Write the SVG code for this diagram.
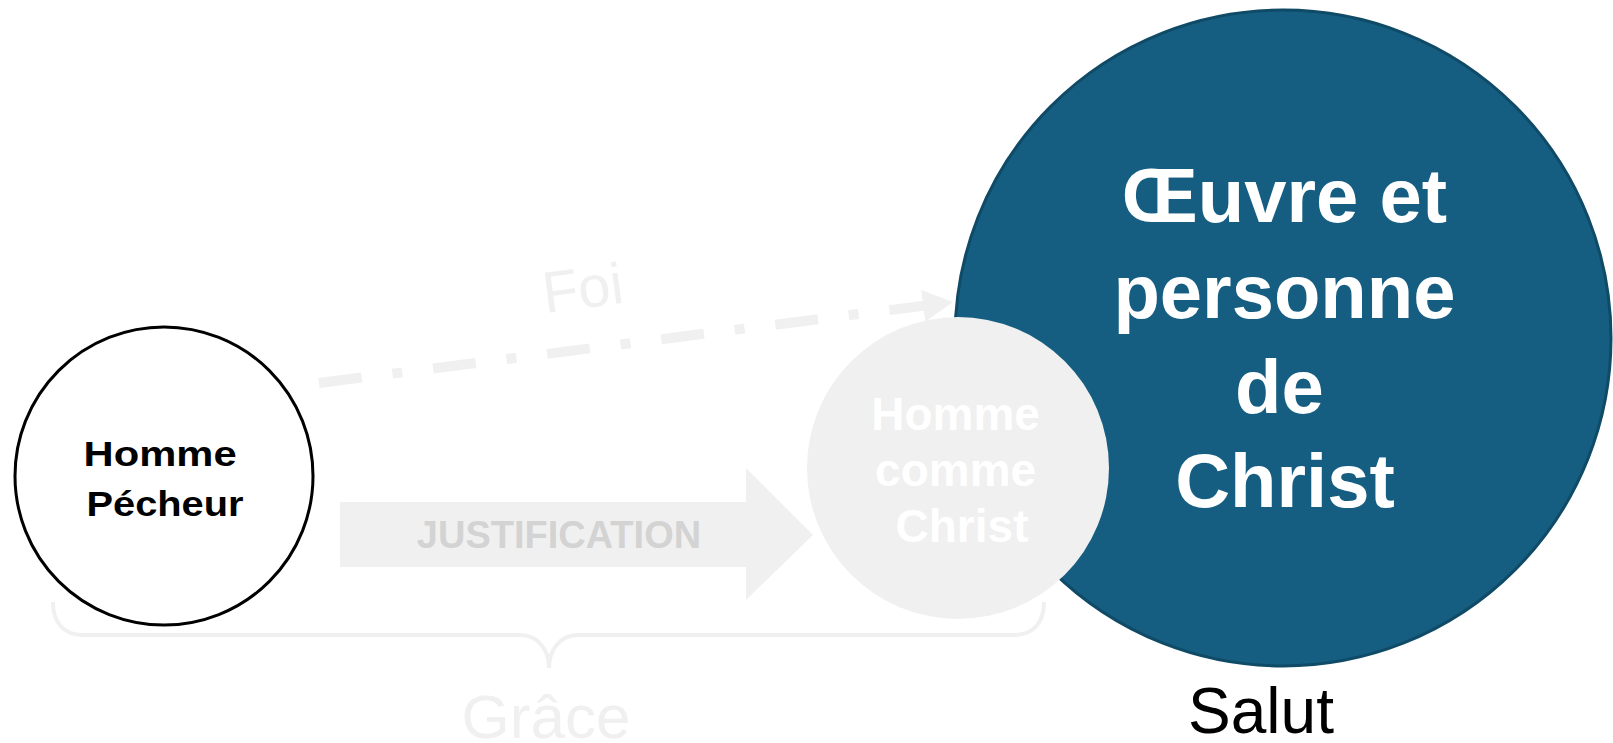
<svg xmlns="http://www.w3.org/2000/svg" width="1613" height="743" viewBox="0 0 1613 743">
  <style>
    .bold { font-family: "Liberation Sans", Arial, sans-serif; font-weight: bold; }
    .reg { font-family: "Liberation Sans", Arial, sans-serif; font-weight: normal; }
    .faint { fill: #f0f0f0; }
  </style>
  <defs>
    <marker id="head" markerUnits="userSpaceOnUse" viewBox="0 0 30 32" refX="30" refY="16" markerWidth="30" markerHeight="32" orient="auto">
      <path d="M0,0 L30,16 L0,32 Z" fill="#f0f0f0"/>
    </marker>
  </defs>
  <rect width="1613" height="743" fill="#ffffff"/>

  <g id="salut">
    <circle cx="1283" cy="338" r="328" fill="#165e81" stroke="#0f4a66" stroke-width="3"/>
    <text class="bold" font-size="76" fill="#ffffff" text-anchor="middle">
      <tspan x="1295" y="222">Œuvre et</tspan>
      <tspan x="1295" y="318">personne</tspan>
      <tspan x="1290" y="413">de</tspan>
      <tspan x="1285" y="507">Christ</tspan>
    </text>
    <text class="reg" x="1261" y="733" font-size="64" fill="#000000" text-anchor="middle">Salut</text>
  </g>

  <g id="connectors">
    <line x1="319" y1="383" x2="953" y2="302" stroke="#f0f0f0" stroke-width="10" stroke-dasharray="43 31 10 31" marker-end="url(#head)"/>
    <text class="reg faint" x="583" y="308" font-size="58" text-anchor="middle" transform="rotate(-7.4 583 290)">Foi</text>
    <path d="M340,502 L746,502 L746,468 L813,535 L746,600 L746,567 L340,567 Z" fill="#f0f0f0"/>
    <text class="bold" x="559" y="548" font-size="38" fill="#d3d3d3" text-anchor="middle">JUSTIFICATION</text>
    <path d="M53,602 C53,622 63,635 83,635 L520,635 C538,635 549,650 549,668 C549,650 560,635 578,635 L1014,635 C1034,635 1044,622 1044,602" fill="none" stroke="#f0f0f0" stroke-width="4"/>
    <text class="reg faint" x="546" y="738" font-size="62" text-anchor="middle">Grâce</text>
  </g>

  <g id="homme-pecheur">
    <circle cx="164" cy="476" r="149" fill="#ffffff" stroke="#000000" stroke-width="3"/>
    <text class="bold" font-size="35" fill="#000000" text-anchor="middle">
      <tspan x="165" y="466" textLength="153" lengthAdjust="spacingAndGlyphs">Homme</tspan>
      <tspan x="165" y="516" textLength="157" lengthAdjust="spacingAndGlyphs">Pécheur</tspan>
    </text>
  </g>

  <g id="homme-comme-christ">
    <circle cx="958" cy="468" r="151" fill="#f0f0f0"/>
    <text class="bold" font-size="46" fill="#ffffff" text-anchor="middle">
      <tspan x="962" y="430">Homme</tspan>
      <tspan x="962" y="486">comme</tspan>
      <tspan x="962" y="542">Christ</tspan>
    </text>
  </g>
</svg>
